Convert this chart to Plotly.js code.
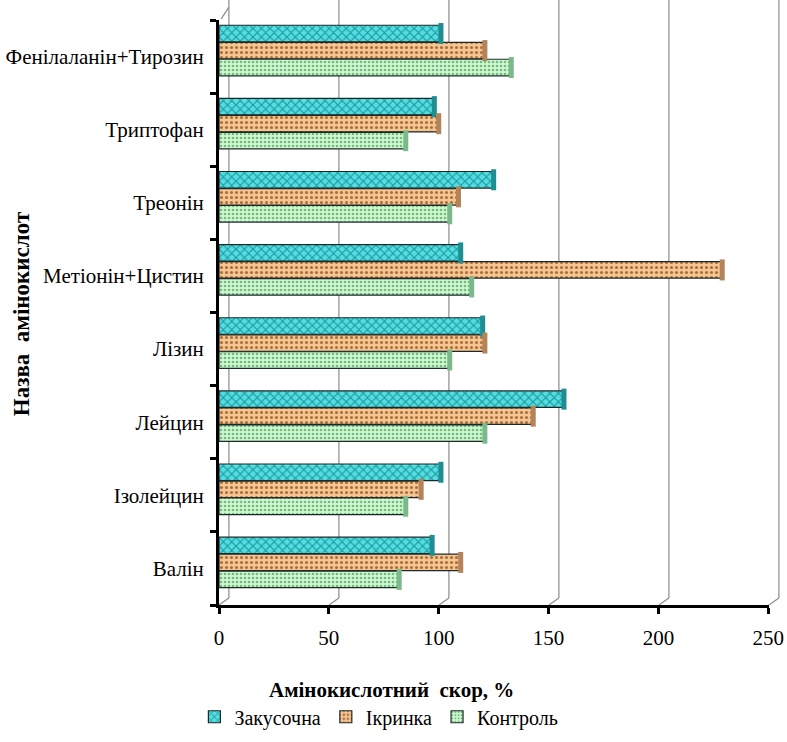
<!DOCTYPE html>
<html>
<head>
<meta charset="utf-8">
<script src="https://cdn.plot.ly/plotly-3.0.1.min.js"></script>
<style>
  html, body { margin: 0; padding: 0; background: #ffffff; }
  #chart { width: 787px; height: 742px; }
</style>
</head>
<body>
<div id="chart"></div>
<script>
// Amino acid names, bottom to top
const categories = ['Валін', 'Ізолейцин', 'Лейцин', 'Лізин', 'Метіонін+Цистин', 'Треонін', 'Триптофан', 'Фенілаланін+Тирозин'];

// Amino acid score, %
const zakusochna = [97, 101, 157, 120, 110, 125, 98, 101];
const ikrynka    = [110, 92, 143, 121, 229, 109, 100, 121];
const kontrol    = [82, 85, 121, 105, 115, 105, 85, 133];

const seriesNames = ['Закусочна', 'Ікринка', 'Контроль'];
const xTicks = [0, 50, 100, 150, 200, 250];

const serif = 'Liberation Serif';

// series styling: cylinder body with pattern and a darker end cap
const styles = [
  { bg: '#55dde2', fg: '#1b9a9e', shape: 'x', size: 6, solidity: 0.35, cap: '#1f8e92', offset: 0.202 },
  { bg: '#f7c592', fg: '#a8713c', shape: '.', size: 5, solidity: 0.3, cap: '#b3845a', offset: -0.031 },
  { bg: '#d3f6d3', fg: '#6cc07a', shape: '.', size: 4, solidity: 0.35, cap: '#7cb98a', offset: -0.263 }
];
const barWidth = 0.226;
const seriesData = [zakusochna, ikrynka, kontrol];

const traces = [];
seriesData.forEach((vals, i) => {
  const s = styles[i];
  traces.push({
    type: 'bar',
    orientation: 'h',
    name: seriesNames[i],
    x: vals,
    y: categories,
    width: barWidth,
    offset: s.offset,
    marker: {
      color: s.bg,
      line: { color: '#1e2a2a', width: 1.2 },
      pattern: { shape: s.shape, fgcolor: s.fg, bgcolor: s.bg, size: s.size, solidity: s.solidity, fillmode: 'replace' }
    },
    hoverinfo: 'x+y'
  });
});

// end caps of the cylinders on a numeric overlay axis aligned with the categories
seriesData.forEach((vals, i) => {
  const s = styles[i];
  traces.push({
    type: 'scatter',
    mode: 'markers',
    x: vals,
    y: vals.map((v, k) => k + s.offset + barWidth / 2),
    yaxis: 'y2',
    showlegend: false,
    hoverinfo: 'skip',
    marker: { symbol: 'line-ns', size: 15, color: s.cap, line: { color: s.cap, width: 5 } }
  });
});

// back wall gridlines and floor edges of the 3D box
const depthX = 0.018, depthY = 0.012;
const shapes = [];
xTicks.forEach(v => {
  const px = v / 250;
  shapes.push({ type: 'line', xref: 'paper', yref: 'paper', x0: px + depthX, x1: px + depthX, y0: depthY, y1: 1.034,
    line: { color: '#8c8c8c', width: 1.2 }, layer: 'below' });
  shapes.push({ type: 'line', xref: 'paper', yref: 'paper', x0: px, x1: px + depthX, y0: 0, y1: depthY,
    line: { color: '#8c8c8c', width: 1.2 }, layer: 'below' });
});
shapes.push({ type: 'line', xref: 'paper', yref: 'paper', x0: 0.004, x1: depthX, y0: 1.002, y1: 1.022,
  line: { color: '#8c8c8c', width: 1.2 }, layer: 'below' });

const layout = {
  width: 787,
  height: 742,
  margin: { l: 219, r: 18, t: 20, b: 137 },
  paper_bgcolor: '#ffffff',
  plot_bgcolor: 'rgba(0,0,0,0)',
  barmode: 'overlay',
  showlegend: true,
  font: { family: serif, color: '#000000', size: 20 },
  xaxis: {
    range: [0, 250.3],
    tickvals: xTicks,
    ticktext: xTicks.map(String),
    showgrid: false,
    zeroline: false,
    showline: true,
    linecolor: '#000000',
    linewidth: 3,
    ticks: 'outside',
    ticklen: 6,
    tickwidth: 3,
    tickcolor: '#000000',
    tickfont: { family: serif, size: 21, color: '#000000' },
    ticklabelstandoff: 6,
    ticklabeloverflow: 'allow',
    automargin: false,
    fixedrange: true
  },
  yaxis: {
    type: 'category',
    categoryorder: 'array',
    categoryarray: categories,
    range: [-0.5, 7.5],
    tickson: 'boundaries',
    showgrid: false,
    zeroline: false,
    showline: true,
    linecolor: '#000000',
    linewidth: 3,
    ticks: 'outside',
    ticklen: 6,
    tickwidth: 3,
    tickcolor: '#000000',
    tickfont: { family: serif, size: 21, color: '#000000' },
    ticklabelstandoff: 8,
    ticklabeloverflow: 'allow',
    automargin: false,
    fixedrange: true
  },
  yaxis2: {
    overlaying: 'y',
    range: [-0.5, 7.5],
    visible: false,
    fixedrange: true
  },
  legend: {
    orientation: 'h',
    xref: 'container',
    yref: 'container',
    x: 0.247,
    xanchor: 'left',
    y: 0.034,
    yanchor: 'middle',
    font: { family: serif, size: 20, color: '#000000' },
    itemwidth: 30,
    tracegroupgap: 0
  },
  annotations: [
    {
      text: '<b>Амінокислотний  скор, %</b>',
      xref: 'paper', yref: 'paper',
      x: 0.313, y: -0.145,
      xanchor: 'center', yanchor: 'middle',
      showarrow: false,
      font: { family: serif, size: 21, color: '#000000' }
    },
    {
      text: '<b>Назва  амінокислот</b>',
      xref: 'paper', yref: 'paper',
      x: -0.36, y: 0.497,
      xanchor: 'center', yanchor: 'middle',
      textangle: -90,
      showarrow: false,
      font: { family: serif, size: 23, color: '#000000' }
    }
  ],
  shapes: shapes
};

Plotly.newPlot('chart', traces, layout, { displayModeBar: false, staticPlot: true });
</script>
</body>
</html>
